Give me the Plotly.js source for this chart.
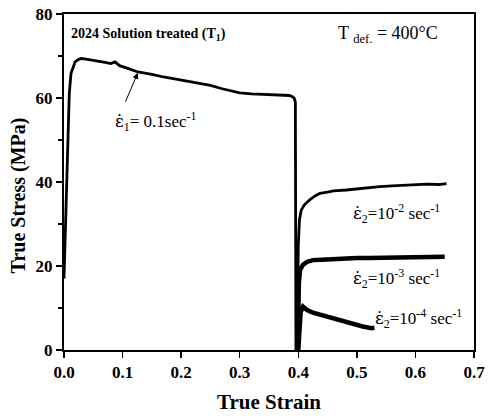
<!DOCTYPE html>
<html>
<head>
<meta charset="utf-8">
<script src="https://cdn.plot.ly/plotly-3.0.1.min.js"></script>
<style>html,body{margin:0;padding:0;background:#fff;}#chart{width:491px;height:416px;}</style>
</head>
<body>
<div id="chart"></div>
<script>
// Stage 1: strain rate 0.1 s^-1
const strain1 = [0, 0.001, 0.002, 0.004, 0.006, 0.007, 0.009, 0.012, 0.015, 0.019, 0.025, 0.03, 0.04, 0.05, 0.06, 0.07, 0.08, 0.087, 0.095, 0.1, 0.11, 0.126, 0.14, 0.15, 0.17, 0.19, 0.2, 0.22, 0.25, 0.27, 0.289, 0.3, 0.32, 0.35, 0.37, 0.385, 0.39, 0.393, 0.395, 0.396, 0.396];
const stress1 = [17, 22, 28, 38, 45, 55, 61, 65.9, 67.3, 68.6, 69.2, 69.4, 69.2, 69.0, 68.8, 68.5, 68.2, 68.6, 67.7, 67.5, 67.0, 66.2, 65.9, 65.6, 65.0, 64.5, 64.3, 63.8, 63.0, 62.2, 61.5, 61.2, 61.0, 60.8, 60.7, 60.6, 60.3, 60.0, 59.0, 30, 0];
// Stage 2: 10^-2 s^-1
const strain2 = [0.398, 0.399, 0.400, 0.402, 0.405, 0.41, 0.42, 0.43, 0.437, 0.45, 0.46, 0.482, 0.5, 0.52, 0.539, 0.56, 0.58, 0.6, 0.62, 0.64, 0.653];
const stress2 = [0, 10, 25, 31, 33.3, 34.5, 35.8, 36.8, 37.3, 37.6, 37.9, 38.1, 38.4, 38.6, 38.9, 39.1, 39.2, 39.3, 39.5, 39.4, 39.6];
// Stage 2: 10^-3 s^-1
const strain3 = [0.399, 0.400, 0.401, 0.403, 0.408, 0.415, 0.425, 0.44, 0.46, 0.482, 0.5, 0.52, 0.55, 0.58, 0.6, 0.63, 0.65];
const stress3 = [0, 10, 16, 19, 20.3, 21.0, 21.4, 21.5, 21.7, 21.8, 21.9, 21.9, 22.0, 22.1, 22.1, 22.2, 22.2];
// Stage 2: 10^-4 s^-1
const strain4 = [0.400, 0.402, 0.404, 0.408, 0.415, 0.425, 0.44, 0.454, 0.47, 0.49, 0.51, 0.525, 0.53];
const stress4 = [0, 5, 9, 10.3, 9.5, 8.9, 8.3, 7.9, 7.0, 6.2, 5.6, 5.2, 5.3];

const xTicks = [0, 0.1, 0.2, 0.3, 0.4, 0.5, 0.6, 0.7];
const yTicks = [0, 20, 40, 60, 80];

const serif = "Liberation Serif, Times New Roman, serif";
const epsDot = '<span style="font-family:DejaVu Serif">ε̇</span>';
const line = (x, y, w) => ({x: x, y: y, type: 'scatter', mode: 'lines', line: {color: '#000', width: w}, hoverinfo: 'skip', showlegend: false});

const data = [line(strain1, stress1, 2.8), line(strain2, stress2, 2.8), line(strain3, stress3, 4.5), line(strain4, stress4, 4.5)];

const layout = {
  width: 491, height: 416,
  margin: {l: 64, r: 17, t: 14, b: 66},
  paper_bgcolor: '#fff', plot_bgcolor: '#fff',
  font: {family: serif, color: '#000'},
  xaxis: {
    range: [0, 0.7], tickvals: xTicks, ticktext: xTicks.map(v => v.toFixed(1)),
    showgrid: false, zeroline: false, showline: true, mirror: true, linecolor: '#000', linewidth: 2,
    ticks: 'outside', ticklen: 6, tickwidth: 1.5, tickcolor: '#000',
    tickfont: {family: serif, size: 17, color: '#000', weight: 'bold'}
  },
  yaxis: {
    range: [0, 80], tickvals: yTicks,
    showgrid: false, zeroline: false, showline: true, mirror: true, linecolor: '#000', linewidth: 2,
    ticks: 'outside', ticklen: 6, tickwidth: 1.5, tickcolor: '#000',
    tickfont: {family: serif, size: 17, color: '#000', weight: 'bold'},
    minor: {dtick: 10, tick0: 0, ticks: 'outside', ticklen: 4, tickwidth: 1.5, tickcolor: '#000', showgrid: false}
  },
  annotations: [
    {xref: 'paper', yref: 'paper', x: 0.5, y: 0, yshift: -52, xanchor: 'center', yanchor: 'middle', showarrow: false,
     text: '<b>True Strain</b>', font: {family: serif, size: 21, color: '#000'}},
    {xref: 'paper', yref: 'paper', x: 0, xshift: -46, y: 0.46, xanchor: 'center', yanchor: 'middle', textangle: -90, showarrow: false,
     text: '<b>True Stress (MPa)</b>', font: {family: serif, size: 20, color: '#000'}},
    {xref: 'x', yref: 'y', x: 0.008, y: 75.2, xanchor: 'left', yanchor: 'middle', showarrow: false,
     text: '<b>2024 Solution treated (T<sub>1</sub>)</b>', font: {family: serif, size: 14, color: '#000'}},
    {xref: 'x', yref: 'y', x: 0.465, y: 75.2, xanchor: 'left', yanchor: 'middle', showarrow: false,
     text: 'T <sub>def.</sub> = 400°C', font: {family: serif, size: 18, color: '#000'}},
    {xref: 'x', yref: 'y', x: 0.126, y: 66.0, ax: 0.104, ay: 58.8, axref: 'x', ayref: 'y',
     showarrow: true, arrowhead: 2, arrowsize: 1.2, arrowwidth: 1, arrowcolor: '#000', text: ''},
    {xref: 'x', yref: 'y', x: 0.084, y: 54.5, xanchor: 'left', yanchor: 'middle', showarrow: false,
     text: epsDot + '<sub>1</sub>= 0.1sec<sup>-1</sup>', font: {family: serif, size: 17, color: '#000'}},
    {xref: 'x', yref: 'y', x: 0.49, y: 32.5, xanchor: 'left', yanchor: 'middle', showarrow: false,
     text: epsDot + '<sub>2</sub>=10<sup>-2</sup> sec<sup>-1</sup>', font: {family: serif, size: 17, color: '#000'}},
    {xref: 'x', yref: 'y', x: 0.49, y: 17.0, xanchor: 'left', yanchor: 'middle', showarrow: false,
     text: epsDot + '<sub>2</sub>=10<sup>-3</sup> sec<sup>-1</sup>', font: {family: serif, size: 17, color: '#000'}},
    {xref: 'x', yref: 'y', x: 0.528, y: 7.5, xanchor: 'left', yanchor: 'middle', showarrow: false,
     text: epsDot + '<sub>2</sub>=10<sup>-4</sup> sec<sup>-1</sup>', font: {family: serif, size: 17, color: '#000'}}
  ]
};

Plotly.newPlot('chart', data, layout, {displayModeBar: false, staticPlot: true});
</script>
</body>
</html>
